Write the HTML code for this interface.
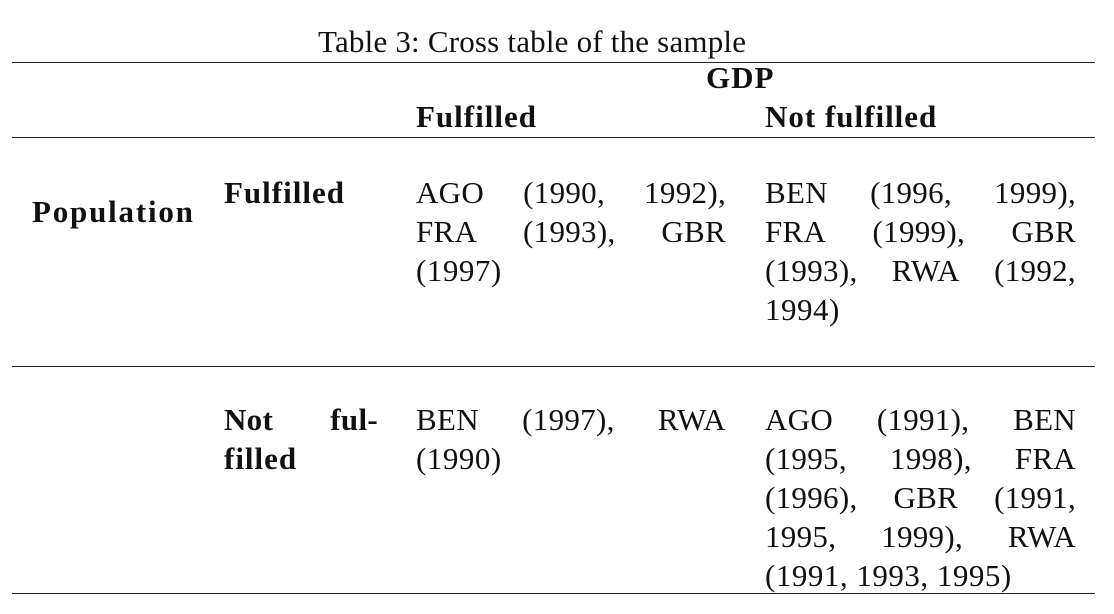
<!DOCTYPE html>
<html><head><meta charset="utf-8"><style>
body{margin:0;width:1114px;height:614px;background:#fff;position:relative;overflow:hidden;font-family:"Liberation Serif",serif;font-size:31px;color:#111;}
.t{position:absolute;line-height:39px;white-space:nowrap;letter-spacing:0.5px}
.b{font-weight:bold;letter-spacing:1px}
.j{position:absolute;line-height:39px;display:flex;justify-content:space-between;white-space:nowrap;letter-spacing:0.3px}
.r{position:absolute;left:12px;width:1083px;height:1.3px;background:#222}
</style></head><body>
<div class="t" style="left:318px;top:22px;letter-spacing:0.2px">Table 3: Cross table of the sample</div>
<div class="r" style="top:62px"></div>
<div class="t b" style="left:706px;top:58px">GDP</div>
<div class="t b" style="left:416px;top:97px">Fulfilled</div>
<div class="t b" style="left:765px;top:97px">Not fulfilled</div>
<div class="r" style="top:137px"></div>

<div class="t b" style="left:32px;top:192px;letter-spacing:1.8px">Population</div>
<div class="t b" style="left:224px;top:173px">Fulfilled</div>

<div class="j" style="left:416px;width:310px;top:173px"><span>AGO</span><span>(1990,</span><span>1992),</span></div>
<div class="j" style="left:416px;width:310px;top:212px"><span>FRA</span><span>(1993),</span><span>GBR</span></div>
<div class="t" style="left:416px;top:251px">(1997)</div>

<div class="j" style="left:765px;width:311px;top:173px"><span>BEN</span><span>(1996,</span><span>1999),</span></div>
<div class="j" style="left:765px;width:311px;top:212px"><span>FRA</span><span>(1999),</span><span>GBR</span></div>
<div class="j" style="left:765px;width:311px;top:251px"><span>(1993),</span><span>RWA</span><span>(1992,</span></div>
<div class="t" style="left:765px;top:290px">1994)</div>

<div class="r" style="top:366px"></div>

<div class="j b" style="left:224px;width:154px;top:400px"><span>Not</span><span>ful-</span></div>
<div class="t b" style="left:224px;top:439px">filled</div>

<div class="j" style="left:416px;width:310px;top:400px"><span>BEN</span><span>(1997),</span><span>RWA</span></div>
<div class="t" style="left:416px;top:439px">(1990)</div>

<div class="j" style="left:765px;width:311px;top:400px"><span>AGO</span><span>(1991),</span><span>BEN</span></div>
<div class="j" style="left:765px;width:311px;top:439px"><span>(1995,</span><span>1998),</span><span>FRA</span></div>
<div class="j" style="left:765px;width:311px;top:478px"><span>(1996),</span><span>GBR</span><span>(1991,</span></div>
<div class="j" style="left:765px;width:311px;top:517px"><span>1995,</span><span>1999),</span><span>RWA</span></div>
<div class="t" style="left:765px;top:556px">(1991, 1993, 1995)</div>

<div class="r" style="top:593px"></div>
</body></html>
